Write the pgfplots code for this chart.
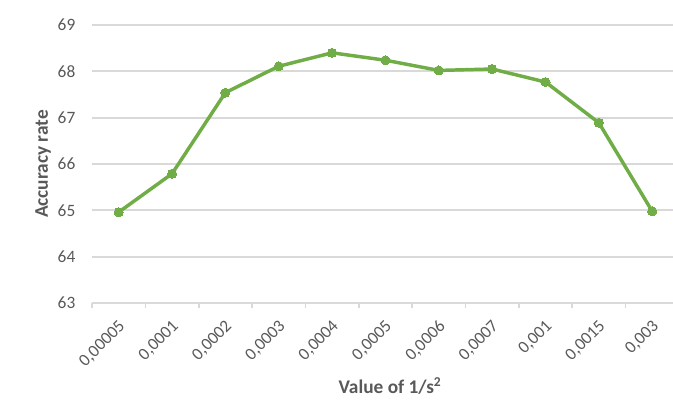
\documentclass[border=0pt]{standalone}
\usepackage{pgfplots}
\pgfplotsset{compat=1.18}
\usepackage{fontspec}
\setmainfont{Carlito}
\definecolor{linegreen}{HTML}{70AD47}
\definecolor{gridgray}{HTML}{D9D9D9}
\definecolor{txtgray}{HTML}{595959}
\begin{document}
\begin{tikzpicture}
\path[use as bounding box] (-69pt,-78.75pt) rectangle (435.75pt,227.25pt);
\begin{axis}[
  at={(0pt,0pt)}, anchor=south west,
  scale only axis, width=435.75pt, height=208.5pt,
  xmin=-0.5, xmax=10.39, ymin=63, ymax=69,
  ytick={63,64,65,66,67,68,69},
  xtick={0,1,2,3,4,5,6,7,8,9,10},
  xticklabels={{0,00005},{0,0001},{0,0002},{0,0003},{0,0004},{0,0005},{0,0006},{0,0007},{0,001},{0,0015},{0,003}},
  /pgf/number format/assume math mode=true,
  ymajorgrids,
  grid style={gridgray, line width=1.5pt},
  axis line style={draw=none},
  xtick pos=bottom, ytick pos=left,
  major tick length=0pt,
  extra x ticks={-0.5,0.5,1.5,2.5,3.5,4.5,5.5,6.5,7.5,8.5,9.5},
  extra x tick labels={},
  extra x tick style={major tick length=4pt, tick align=outside, tick style={draw=gridgray, line width=1.2pt}},
  ticklabel style={font=\fontsize{13}{15}\selectfont, text=txtgray},
  yticklabel style={anchor=east, xshift=-9pt},
  xticklabel style={anchor=east, inner sep=0pt, xshift=3pt, yshift=-15.5pt, rotate=45},
  xlabel={\textbf{Value of 1/s\textsuperscript{2}}},
  ylabel={\textbf{Accuracy rate}},
  label style={font=\fontsize{14.5}{16}\selectfont, text=txtgray},
  xlabel style={at={(axis description cs:0.513,-0.2986)}, anchor=center},
  ylabel style={at={(axis description cs:-0.0843,0.5)}, anchor=center},
  clip=false,
]
\addplot[linegreen, line width=2.6pt, mark=*, mark size=3.4pt,
  mark options={fill=linegreen, draw=linegreen, line width=0pt}]
  coordinates {
  (0,64.96) (1,65.79) (2,67.54) (3,68.11) (4,68.40) (5,68.24)
  (6,68.02) (7,68.05) (8,67.77) (9,66.89) (10,64.98)
  };
\end{axis}
\end{tikzpicture}
\end{document}
